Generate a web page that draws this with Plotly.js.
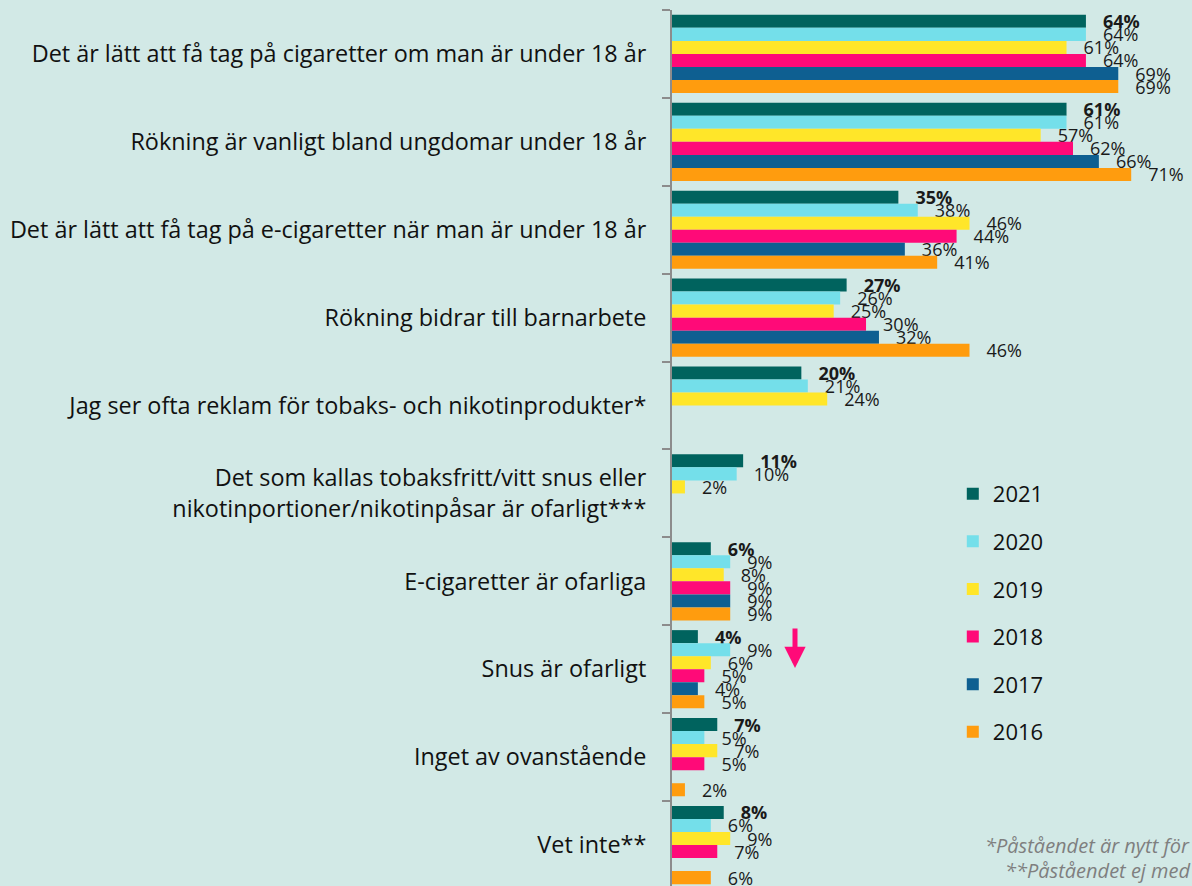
<!DOCTYPE html>
<html><head><meta charset="utf-8">
<script src="https://cdn.plot.ly/plotly-3.0.1.min.js"></script>
<style>html,body{margin:0;padding:0;background:#d2e9e6;overflow:hidden}</style>
</head><body>
<div id="chart" style="width:1192px;height:886px"></div>
<script>
const categories = [
  "Det är lätt att få tag på cigaretter om man är under 18 år",
  "Rökning är vanligt bland ungdomar under 18 år",
  "Det är lätt att få tag på e-cigaretter när man är under 18 år",
  "Rökning bidrar till barnarbete",
  "Jag ser ofta reklam för tobaks- och nikotinprodukter*",
  "Det som kallas tobaksfritt/vitt snus eller<br>nikotinportioner/nikotinpåsar är ofarligt***",
  "E-cigaretter är ofarliga",
  "Snus är ofarligt",
  "Inget av ovanstående",
  "Vet inte**"
];
const years = ["2021","2020","2019","2018","2017","2016"];
const v2021 = [64,61,35,27,20,11,6,4,7,8];
const v2020 = [64,61,38,26,21,10,9,9,5,6];
const v2019 = [61,57,46,25,24,2,8,6,7,9];
const v2018 = [64,62,44,30,null,null,9,5,5,7];
const v2017 = [69,66,36,32,null,null,9,4,null,null];
const v2016 = [69,71,41,46,null,null,9,5,2,6];
const series = [v2021,v2020,v2019,v2018,v2017,v2016];
const colors = ["#00635E","#74DFEA","#FFE629","#FF0A78","#0E5F91","#FF9C0E"];
const footnotes = ["*Påståendet är nytt för","**Påståendet ej med"];

const FONT = "Open Sans, sans-serif";
const pad = "\u00a0\u00a0\u00a0";
const traces = series.map((vals,i)=>({
  type:"bar", orientation:"h",
  name: years[i], legendgroup: years[i],
  x: vals, y: categories,
  marker:{color:colors[i]},
  texttemplate: i===0 ? pad+"<b>%{x}%</b>" : pad+"%{x}%",
  textposition:"outside",
  constraintext:"none",
  cliponaxis:false,
  textfont:{family:FONT, size:18, color:"#1a1a1a"},
  hoverinfo:"skip"
}));

const layout = {
  width:1192, height:886,
  paper_bgcolor:"#d2e9e6", plot_bgcolor:"#d2e9e6",
  margin:{l:672, r:0, t:10, b:0},
  barmode:"group", bargap:0.11, bargroupgap:0,
  font:{family:FONT, color:"#111"},
  xaxis:{range:[0,80.4], visible:false, fixedrange:true},
  yaxis:{
    type:"category", range:[9.466,-0.5], autorange:false,
    showline:true, linecolor:"#8c8c8c", linewidth:2,
    ticks:"outside", tickson:"boundaries", ticklen:8, tickcolor:"#8c8c8c", tickwidth:2,
    ticklabelstandoff:19,
    tickfont:{family:FONT, size:23.4, color:"#111"},
    showgrid:false, zeroline:false
  },
  showlegend:true,
  legend:{x:0.54, y:0.4715, xanchor:"left", yanchor:"top", bgcolor:"rgba(0,0,0,0)",
    font:{family:FONT, size:22, color:"#111"},
    tracegroupgap:16, traceorder:"grouped"},
  annotations:[
    {xref:"paper", yref:"paper", x:(795-672)/520, y:(886-668)/876, ax:0, ay:-41,
     showarrow:true, arrowhead:2, arrowsize:0.85, arrowwidth:5, arrowcolor:"#FF0A78", text:""},
    {xref:"paper", yref:"paper", x:1.0, y:(886-845)/876, xanchor:"right", yanchor:"middle",
     text:"<i>"+footnotes[0]+"</i>", showarrow:false, font:{family:FONT, size:20, color:"#7f7f7f"}},
    {xref:"paper", yref:"paper", x:1.0, y:(886-870)/876, xanchor:"right", yanchor:"middle",
     text:"<i>"+footnotes[1]+"</i>", showarrow:false, font:{family:FONT, size:20, color:"#7f7f7f"}}
  ]
};
Plotly.newPlot("chart", traces, layout, {displayModeBar:false, staticPlot:true});
</script>
</body></html>
